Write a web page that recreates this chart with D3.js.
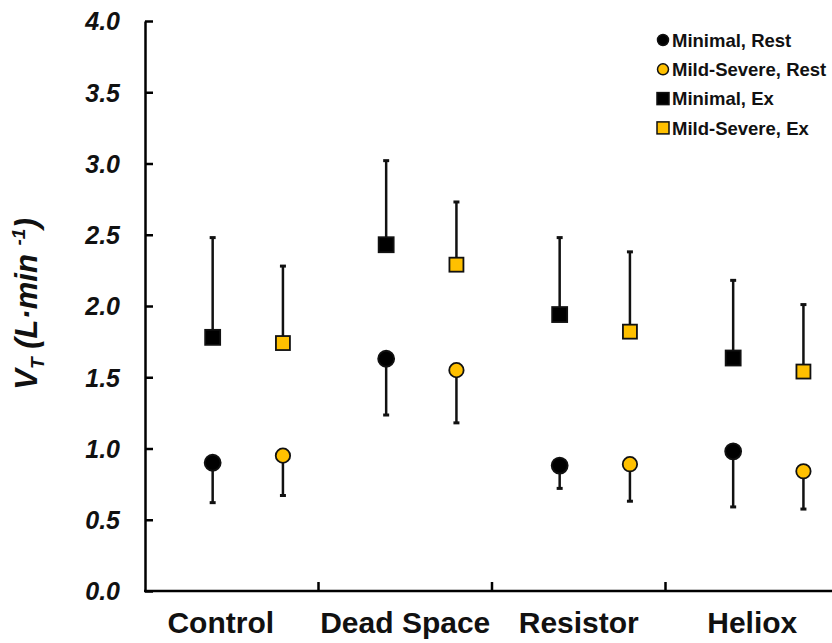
<!DOCTYPE html>
<html>
<head>
<meta charset="utf-8">
<script src="https://cdn.jsdelivr.net/npm/d3@7"></script>
<style>
  html, body { margin: 0; padding: 0; background: #fff; }
  svg { display: block; font-family: "Liberation Sans", Arial, sans-serif; }
</style>
</head>
<body>
<svg id="chart" width="832" height="643"></svg>
<script>
// Tidal volume by condition and severity group
const categories = ["Control", "Dead Space", "Resistor", "Heliox"];
const seriesNames = ["Minimal, Rest", "Mild-Severe, Rest", "Minimal, Ex", "Mild-Severe, Ex"];

// means (L·min-1)
const minimalRest = [0.90, 1.63, 0.88, 0.98];
const mildRest    = [0.95, 1.55, 0.89, 0.84];
const minimalEx   = [1.78, 2.43, 1.94, 1.635];
const mildEx      = [1.74, 2.29, 1.82, 1.54];

// one-sided SD (rest drawn downward, exercise drawn upward)
const minimalRestSD = [0.28, 0.395, 0.16, 0.39];
const mildRestSD    = [0.28, 0.37, 0.26, 0.265];
const minimalExSD   = [0.70, 0.59, 0.54, 0.545];
const mildExSD      = [0.54, 0.44, 0.56, 0.47];

const yTicks = [0, 0.5, 1.0, 1.5, 2.0, 2.5, 3.0, 3.5, 4.0];

const YELLOW = "#FFC000";
const svg = d3.select("#chart");

const y = d3.scaleLinear().domain([0, 4]).range([591, 21]);
const xg = d3.scaleBand().domain(categories).range([145, 839]).padding(0);
// position of the two severity columns inside each condition band
const xSub = d3.scaleOrdinal().domain(["minimal", "mild"]).range([0.39, 0.795]);
const xPos = (cat, sev) => xg(cat) + xSub(sev) * xg.bandwidth();

const series = [
  { name: seriesNames[0], sev: "minimal", mean: minimalRest, sd: minimalRestSD, dir: -1, shape: "circle", fill: "#000" },
  { name: seriesNames[1], sev: "mild",    mean: mildRest,    sd: mildRestSD,    dir: -1, shape: "circle", fill: YELLOW },
  { name: seriesNames[2], sev: "minimal", mean: minimalEx,   sd: minimalExSD,   dir: 1,  shape: "square", fill: "#000" },
  { name: seriesNames[3], sev: "mild",    mean: mildEx,      sd: mildExSD,      dir: 1,  shape: "square", fill: YELLOW }
];

// y axis (ticks point inward)
const yAxis = d3.axisLeft(y).tickValues(yTicks).tickFormat(d3.format(".1f"))
  .tickSizeInner(-8).tickSizeOuter(0).tickPadding(25);
const gy = svg.append("g").attr("transform", "translate(145,0)").call(yAxis);
gy.select(".domain").attr("stroke", "#000").attr("stroke-width", 2.5);
gy.selectAll(".tick line").attr("stroke", "#000").attr("stroke-width", 2.5);
gy.selectAll(".tick text")
  .attr("fill", "#111").attr("font-size", 25).attr("font-weight", "bold")
  .attr("font-style", "italic").attr("font-family", "Liberation Sans, Arial, sans-serif")
  .attr("dy", "0.35em");

// x axis: baseline with boundary ticks between conditions
const boundaries = categories.slice(1).map(c => xg(c));
const gx = svg.append("g");
gx.append("line").attr("x1", 144).attr("x2", 839).attr("y1", y(0)).attr("y2", y(0))
  .attr("stroke", "#000").attr("stroke-width", 2.5);
gx.selectAll("line.bt").data(boundaries).join("line").attr("class", "bt")
  .attr("x1", d => d).attr("x2", d => d).attr("y1", y(0)).attr("y2", y(0) - 9)
  .attr("stroke", "#000").attr("stroke-width", 2.5);
gx.selectAll("text").data(categories).join("text")
  .attr("x", d => xg(d) + xg.bandwidth() / 2 + (d === "Control" ? -11 : 0))
  .attr("y", 633)
  .attr("text-anchor", "middle").attr("font-size", 30).attr("font-weight", "bold")
  .attr("fill", "#111").text(d => d);

// y label
const yl = svg.append("text")
  .attr("transform", "translate(37,304) rotate(-90)")
  .attr("text-anchor", "middle").attr("font-size", 31).attr("font-weight", "bold")
  .attr("font-style", "italic").attr("fill", "#111");
yl.append("tspan").attr("font-size", 31).text("V");
yl.append("tspan").attr("font-size", 19).attr("dy", 7).text("T");
yl.append("tspan").attr("dy", -7).text(" (L·min ");
yl.append("tspan").attr("font-size", 19).attr("dy", -12).text("-1");
yl.append("tspan").attr("dy", 12).text(")");

// error bars
const eb = svg.append("g");
series.forEach(s => {
  categories.forEach((c, i) => {
    const cx = xPos(c, s.sev);
    const yEnd = y(s.mean[i] + s.dir * s.sd[i]);
    eb.append("line").attr("x1", cx).attr("x2", cx)
      .attr("y1", y(s.mean[i])).attr("y2", yEnd)
      .attr("stroke", "#111").attr("stroke-width", 2.5);
    eb.append("line").attr("x1", cx - 3).attr("x2", cx + 3)
      .attr("y1", yEnd).attr("y2", yEnd)
      .attr("stroke", "#111").attr("stroke-width", 3);
  });
});

// markers
const mk = svg.append("g");
series.forEach(s => {
  categories.forEach((c, i) => {
    const cx = xPos(c, s.sev), cy = y(s.mean[i]);
    if (s.shape === "circle") {
      mk.append("circle").attr("cx", cx).attr("cy", cy).attr("r", s.fill === "#000" ? 8 : 7.2)
        .attr("fill", s.fill).attr("stroke", "#111").attr("stroke-width", 1.8);
    } else {
      const h = s.fill === "#000" ? 7.5 : 7;
      mk.append("rect").attr("x", cx - h).attr("y", cy - h).attr("width", 2 * h).attr("height", 2 * h)
        .attr("fill", s.fill).attr("stroke", "#111").attr("stroke-width", 1.8);
    }
  });
});

// legend
const lg = svg.append("g");
series.forEach((s, k) => {
  const ly = 40 + k * 29.3;
  if (s.shape === "circle") {
    lg.append("circle").attr("cx", 663).attr("cy", ly).attr("r", 5.5)
      .attr("fill", s.fill).attr("stroke", "#111").attr("stroke-width", 1.5);
  } else {
    lg.append("rect").attr("x", 657).attr("y", ly - 6).attr("width", 12).attr("height", 12)
      .attr("fill", s.fill).attr("stroke", "#111").attr("stroke-width", 1.5);
  }
  lg.append("text").attr("x", 672).attr("y", ly).attr("dy", "0.36em")
    .attr("font-size", 18.5).attr("font-weight", "bold").attr("fill", "#111").text(s.name);
});
</script>
</body>
</html>
